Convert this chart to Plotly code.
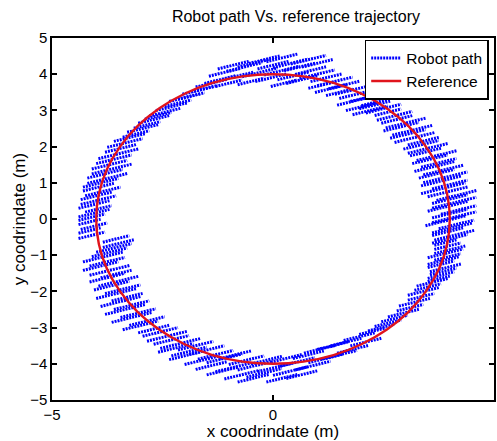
import plotly.graph_objects as go

# Reference trajectory (circle of radius 4), points read every 10 degrees
ref_x = [4.00, 3.94, 3.76, 3.46, 3.06, 2.57, 2.00, 1.37, 0.69, 0.00,
         -0.69, -1.37, -2.00, -2.57, -3.06, -3.46, -3.76, -3.94, -4.00,
         -3.94, -3.76, -3.46, -3.06, -2.57, -2.00, -1.37, -0.69, 0.00,
         0.69, 1.37, 2.00, 2.57, 3.06, 3.46, 3.76, 3.94, 4.00]
ref_y = [0.00, 0.69, 1.37, 2.00, 2.57, 3.06, 3.46, 3.76, 3.94, 4.00,
         3.94, 3.76, 3.46, 3.06, 2.57, 2.00, 1.37, 0.69, 0.00,
         -0.69, -1.37, -2.00, -2.57, -3.06, -3.46, -3.76, -3.94, -4.00,
         -3.94, -3.76, -3.46, -3.06, -2.57, -2.00, -1.37, -0.69, 0.00]

# Robot path: oscillation strokes (centre x, centre y, stroke length in x)
stroke_cx = [
    3.75, 3.80, 3.85, 3.90, 3.80, 3.85, 3.95, 3.90, 4.00, 3.95, 3.90,
    4.00, 4.10, 3.95, 4.05, 4.15, 3.90, 4.10, 4.00, 4.20, 3.95, 4.10, 4.00, 4.15,
    3.95, 3.85, 4.00, 3.80, 3.90, 3.70, 3.85, 3.65, 3.75, 3.55, 3.70, 3.45, 3.50, 3.35, 3.40,
    3.20, 3.05, 3.15, 2.90, 3.00, 2.80, 2.75, 2.60,
    2.50, 2.30, 2.40, 2.10, 2.20, 2.00, 1.90, 1.75, 1.80,
    1.60, 1.40, 1.50, 1.20, 1.30, 1.00, 1.10,
    1.00, 0.80, 0.85, 0.60, 0.65, 0.40, 0.45, 0.20, 0.20, 0.25, 0.00, -0.05,
    -0.20, -0.30, -0.45, -0.50, -0.65, -0.80, -0.90, -1.00, -1.10, -1.20,
    -1.40, -1.55, -1.70, -1.85, -2.00, -2.15, -2.30,
    -2.45, -2.60, -2.70, -2.85, -2.95, -3.10,
    -3.25, -3.35, -3.45, -3.50, -3.60, -3.70, -3.65, -3.80, -3.75,
    -3.90, -3.95, -3.85, -4.00, -3.95, -4.05, -3.95, -4.05,
    -4.10, -4.15, -4.05, -4.15, -4.10,
    -3.55, -3.50, -3.60, -3.70, -3.85, -3.75,
    -3.90, -3.70, -3.55, -3.75, -3.50, -3.65, -3.40, -3.55, -3.30,
    -3.45, -3.20, -3.35, -3.05, -3.20, -2.85, -3.00, -2.70,
    -2.55, -2.40, -2.30, -2.10, -2.20, -1.90, -2.00,
    -1.75, -1.60, -1.50, -1.40, -1.30, -1.15, -1.10, -0.90, -0.85, -0.70, -0.60, -0.45, -0.40, -0.20, -0.15,
    0.05, 0.20, 0.30, 0.40, 0.55, 0.65, 0.80, 0.90, 1.05,
    1.20, 1.35, 1.50, 1.65, 1.80, 1.95, 2.10, 2.25,
    2.45, 2.60, 2.75,
    2.95, 3.10, 3.20, 3.35, 3.40, 3.50, 3.60,
]
stroke_cy = [
    -1.65, -1.55, -1.45, -1.35, -1.25, -1.15, -1.05, -0.95, -0.85, -0.75, -0.65,
    -0.55, -0.45, -0.35, -0.25, -0.15, -0.05, 0.05, 0.15, 0.25, 0.35, 0.45, 0.55, 0.65,
    0.75, 0.85, 0.95, 1.05, 1.15, 1.25, 1.35, 1.45, 1.55, 1.65, 1.75, 1.85, 1.95, 2.05, 2.15,
    2.25, 2.35, 2.45, 2.55, 2.65, 2.75, 2.85, 2.95,
    3.05, 3.15, 3.25, 3.35, 3.00, 3.10, 3.45, 3.55, 3.25,
    3.70, 3.80, 3.50, 3.90, 3.60, 4.00, 3.70,
    4.30, 4.40, 4.10, 4.20, 3.85, 4.30, 3.95, 4.45, 4.10, 3.75, 4.25, 3.90,
    4.40, 4.05, 4.30, 3.80, 4.20, 3.95, 4.25, 3.75, 4.05, 3.85,
    3.75, 3.60, 3.55, 3.40, 3.35, 3.20, 3.10,
    2.95, 2.85, 2.75, 2.60, 2.50, 2.35,
    2.25, 2.10, 1.95, 1.80, 1.65, 1.50, 1.38, 1.25, 1.12,
    1.00, 0.88, 0.76, 0.64, 0.52, 0.40, 0.28, 0.16,
    0.05, -0.08, -0.20, -0.32, -0.45,
    -0.55, -0.68, -0.80, -0.92, -1.05, -1.18,
    -1.30, -1.42, -1.52, -1.62, -1.72, -1.84, -1.94, -2.06, -2.16,
    -2.28, -2.38, -2.50, -2.60, -2.72, -2.82, -2.94, -3.04,
    -3.12, -3.24, -3.34, -3.44, -3.56, -3.66, -3.78,
    -3.50, -3.90, -3.62, -4.05, -3.75, -4.20, -3.85, -4.10, -3.75, -4.30, -3.90, -4.40, -4.05, -4.25, -3.90,
    -4.10, -4.40, -3.85, -4.20, -3.95, -4.30, -3.75, -4.05, -3.60,
    -3.85, -3.50, -3.75, -3.40, -3.60, -3.25, -3.40, -3.10,
    -3.00, -2.88, -2.75,
    -2.60, -2.45, -2.30, -2.15, -2.00, -1.88, -1.75,
]
stroke_len = [
    0.5, 0.6, 0.6, 0.7, 0.6, 0.7, 0.6, 0.8, 0.7, 0.6, 0.5,
    0.8, 0.9, 0.7, 0.9, 0.8, 0.9, 1.0, 0.8, 0.8, 0.9, 1.0, 0.8, 0.9,
    0.9, 1.0, 0.8, 0.9, 1.0, 0.8, 0.9, 0.9, 0.8, 0.8, 0.9, 0.7, 0.9, 0.8, 0.7,
    0.9, 0.8, 0.9, 0.8, 0.9, 0.7, 0.8, 0.6,
    0.8, 0.7, 0.8, 0.7, 0.8, 0.7, 0.8, 0.7, 0.7,
    0.7, 0.8, 0.6, 0.7, 0.7, 0.8, 0.6,
    0.7, 0.8, 0.7, 0.7, 0.7, 0.8, 0.7, 0.7, 0.8, 0.6, 0.7, 0.7,
    0.7, 0.8, 0.7, 0.6, 0.8, 0.7, 0.7, 0.6, 0.7, 0.7,
    0.7, 0.6, 0.7, 0.6, 0.7, 0.6, 0.7,
    0.7, 0.6, 0.7, 0.6, 0.7, 0.6,
    0.7, 0.8, 0.7, 0.9, 0.8, 0.8, 0.9, 0.8, 0.9,
    0.8, 0.7, 0.8, 0.7, 0.8, 0.7, 0.6, 0.7,
    0.6, 0.5, 0.6, 0.5, 0.6,
    0.6, 0.7, 0.8, 0.8, 0.9, 0.8,
    0.8, 0.9, 0.7, 0.8, 0.9, 0.8, 0.8, 0.9, 0.7,
    0.9, 0.8, 0.9, 0.8, 0.9, 0.8, 0.8, 0.7,
    0.8, 0.9, 0.8, 0.9, 0.8, 0.8, 0.7,
    0.8, 0.8, 0.8, 0.7, 0.8, 0.7, 0.8, 0.8, 0.7, 0.8, 0.8, 0.7, 0.8, 0.8, 0.7,
    0.8, 0.7, 0.7, 0.8, 0.8, 0.7, 0.7, 0.8, 0.7,
    0.8, 0.7, 0.8, 0.7, 0.7, 0.7, 0.7, 0.6,
    0.6, 0.6, 0.6,
    0.7, 0.6, 0.7, 0.6, 0.7, 0.6, 0.7,
]
stroke_slope = 0.3

path_x, path_y = [], []
for cx, cy, ln in zip(stroke_cx, stroke_cy, stroke_len):
    h = ln / 2
    path_x += [cx - h, cx + h, None]
    path_y += [cy - stroke_slope * h, cy + stroke_slope * h, None]

font = "Liberation Sans, Arial, Helvetica, sans-serif"

fig = go.Figure()
fig.add_trace(go.Scatter(
    x=path_x, y=path_y, mode="lines", name="Robot path",
    connectgaps=False,
    line=dict(color="#0000ff", width=3, dash="2px,1px"),
))
fig.add_trace(go.Scatter(
    x=ref_x, y=ref_y, mode="lines", name="Reference",
    line=dict(color="#e0141c", width=2.4, shape="spline", smoothing=1.0),
))

axis_common = dict(
    range=[-5, 5], showgrid=False, zeroline=False, automargin=False,
    showline=True, linecolor="black", linewidth=1.5, mirror="ticks",
    ticks="inside", ticklen=5, tickwidth=1.5, tickcolor="black",
    tickfont=dict(family=font, size=15, color="black"),
)

fig.update_layout(
    width=497, height=441, autosize=False,
    margin=dict(l=52, r=3, t=38, b=41, autoexpand=False),
    paper_bgcolor="white", plot_bgcolor="white",
    title=dict(text="Robot path Vs. reference trajectory",
               x=0.552, xref="paper", xanchor="center",
               y=0.962, yref="container", yanchor="middle",
               font=dict(family=font, size=16, color="black")),
    xaxis=dict(axis_common, tickvals=[-5, 0, 5],
               title=dict(text="x coodrindate (m)", standoff=0,
                          font=dict(family=font, size=17, color="black"))),
    yaxis=dict(axis_common, tickvals=[-5, -4, -3, -2, -1, 0, 1, 2, 3, 4, 5],
               title=dict(text="y coodrindate (m)", standoff=0,
                          font=dict(family=font, size=17, color="black"))),
    legend=dict(x=0.988, y=0.995, xanchor="right", yanchor="top",
                bgcolor="white", bordercolor="black", borderwidth=1.5,
                font=dict(family=font, size=15.5, color="black"),
                tracegroupgap=0, itemwidth=30),
    showlegend=True,
)

fig.write_html(
    "out.html",
    config={"responsive": False, "displayModeBar": False},
    post_script="document.body.style.margin='0px';document.body.style.overflow='hidden';",
)
